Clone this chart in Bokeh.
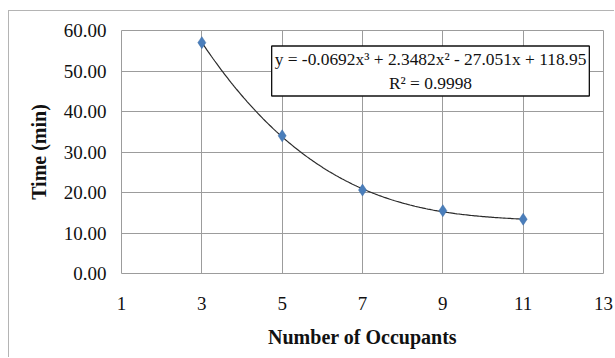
import numpy as np
from bokeh.plotting import figure
from bokeh.models import (FixedTicker, PrintfTickFormatter, Label, Range1d, ColumnDataSource)
from bokeh.embed import file_html
from bokeh.resources import INLINE

# data
occupants = [3, 5, 7, 9, 11]
time_min = [57.0, 34.0, 20.6, 15.5, 13.4]
x_ticks = [1, 3, 5, 7, 9, 11, 13]
y_ticks = [0, 10, 20, 30, 40, 50, 60]
# displayed trendline: y = a x^3 + b x^2 + c x + d
trend_coeffs = [-0.0692, 2.3482, -27.051, 118.95]
equation_text = "y = -0.0692x\u00b3 + 2.3482x\u00b2 - 27.051x + 118.95\nR\u00b2 = 0.9998"
x_title = "Number of Occupants"
y_title = "Time (min)"

FONT = "Liberation Serif"
GRID = "#9c9c9c"

p = figure(width=606, height=347, output_backend="svg", toolbar_location=None,
           x_range=Range1d(1, 13), y_range=Range1d(0, 60),
           min_border_left=112, min_border_right=12, min_border_top=19, min_border_bottom=85,
           styles={"border-left": "1px solid #b4b4b4", "border-top": "1px solid #b4b4b4",
                   "margin-top": "10px", "margin-left": "8px"})
p.background_fill_color = "white"
p.border_fill_color = "white"
p.outline_line_color = GRID
p.outline_line_width = 1

p.xaxis.ticker = FixedTicker(ticks=x_ticks)
p.yaxis.ticker = FixedTicker(ticks=y_ticks)
p.yaxis.formatter = PrintfTickFormatter(format="%.2f")
for ax in (p.xaxis, p.yaxis):
    ax.axis_line_color = None
    ax.major_tick_line_color = None
    ax.minor_tick_line_color = None
    ax.major_tick_in = 0
    ax.major_tick_out = 0
    ax.major_label_text_font = FONT
    ax.major_label_text_font_size = "19px"
    ax.major_label_text_color = "#111111"
    ax.axis_label_text_font = FONT
    ax.axis_label_text_font_size = "20px"
    ax.axis_label_text_font_style = "bold"
    ax.axis_label_text_color = "#111111"
p.xaxis.axis_label = x_title
p.yaxis.axis_label = y_title
p.yaxis.major_label_standoff = 15
p.xaxis.major_label_standoff = 23
p.yaxis.axis_label_standoff = 11
p.xaxis.axis_label_standoff = 13

p.grid.grid_line_color = GRID
p.grid.grid_line_width = 1

xs = np.linspace(min(occupants), max(occupants), 200)
ys = np.polyval(trend_coeffs, xs)
p.line(xs, ys, line_color="#2b2b2b", line_width=1.2)

src = ColumnDataSource(dict(x=occupants, y=time_min))
p.scatter("x", "y", source=src, marker="diamond", size=12,
          fill_color="#4a7ebb", line_color="#3a6aa5", line_width=0.5)

lab = Label(x=309, y=227.5, x_units="screen", y_units="screen", text=equation_text,
            text_font=FONT, text_font_size="17.4px", text_align="center",
            text_baseline="top", text_color="#111111", text_line_height=1.2,
            background_fill_color="white", border_line_color="#111111",
            border_line_width=1.3, padding=3)
p.add_layout(lab)

open("out.html", "w").write(file_html(p, INLINE))
